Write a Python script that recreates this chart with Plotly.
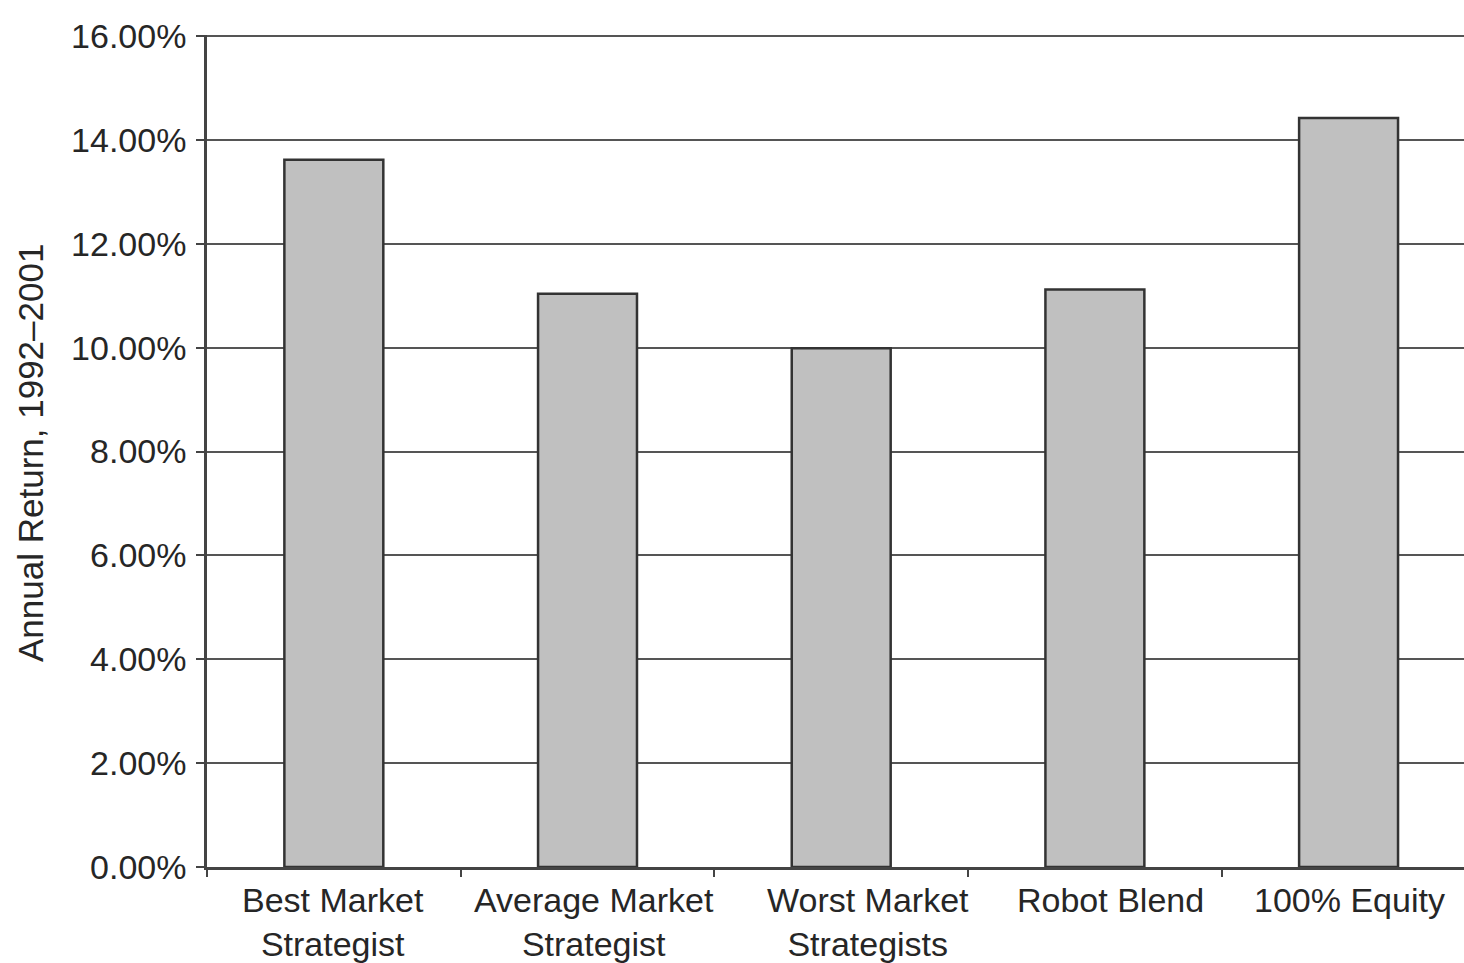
import plotly.graph_objects as go

categories = ["Best Market<br>Strategist", "Average Market<br>Strategist",
              "Worst Market<br>Strategists", "Robot Blend", "100% Equity"]
annual_return = [0.1362, 0.1104, 0.0999, 0.1112, 0.1442]
tick_vals = [0, 0.02, 0.04, 0.06, 0.08, 0.10, 0.12, 0.14, 0.16]

# horizontal label offsets (px) as seen in the reference
label_xshift = [-1, 6, 27, 16, 1]

font_family = "Liberation Sans, Arial, sans-serif"
text_color = "#262626"
line_color = "#444444"
fs = 34

fig = go.Figure(go.Bar(
    x=categories,
    y=annual_return,
    width=0.39,
    marker=dict(color="#c0c0c0", line=dict(color="#333333", width=2.5)),
    showlegend=False,
))

for cat, dx in zip(categories, label_xshift):
    fig.add_annotation(
        x=cat, y=0, xref="x", yref="y",
        text=cat, showarrow=False,
        xanchor="center", yanchor="top", align="center",
        xshift=dx, yshift=-12,
        font=dict(family=font_family, size=fs, color=text_color),
    )

fig.add_annotation(
    xref="paper", yref="paper",
    x=(30 - 207) / 1257, y=(867 - 453) / 832,
    text="Annual Return, 1992–2001", textangle=-90, showarrow=False,
    xanchor="center", yanchor="middle",
    font=dict(family=font_family, size=35, color=text_color),
)

fig.update_layout(
    width=1464, height=963,
    margin=dict(l=207, r=0, t=35, b=96),
    paper_bgcolor="white", plot_bgcolor="white",
    font=dict(family=font_family, size=fs, color=text_color),
    xaxis=dict(
        range=[-0.5, 4.455],
        showgrid=False,
        showline=True, linecolor=line_color, linewidth=2.5,
        ticks="outside", tickson="boundaries", ticklen=7, tickwidth=2, tickcolor=line_color,
        showticklabels=False,
    ),
    yaxis=dict(
        range=[0, 0.1602],
        tickvals=tick_vals,
        tickformat=".2%",
        showgrid=True, gridcolor="#555555", gridwidth=2,
        zeroline=False,
        showline=True, linecolor=line_color, linewidth=2.5,
        ticks="outside", ticklen=8, tickwidth=2, tickcolor=line_color,
        tickfont=dict(size=fs, color=text_color),
        ticklabelstandoff=3,
    ),
    bargap=0.6,
)

fig.write_html(
    "out.html",
    config={"displayModeBar": False},
    post_script="document.body.style.margin='0';document.body.style.overflow='hidden';",
)
